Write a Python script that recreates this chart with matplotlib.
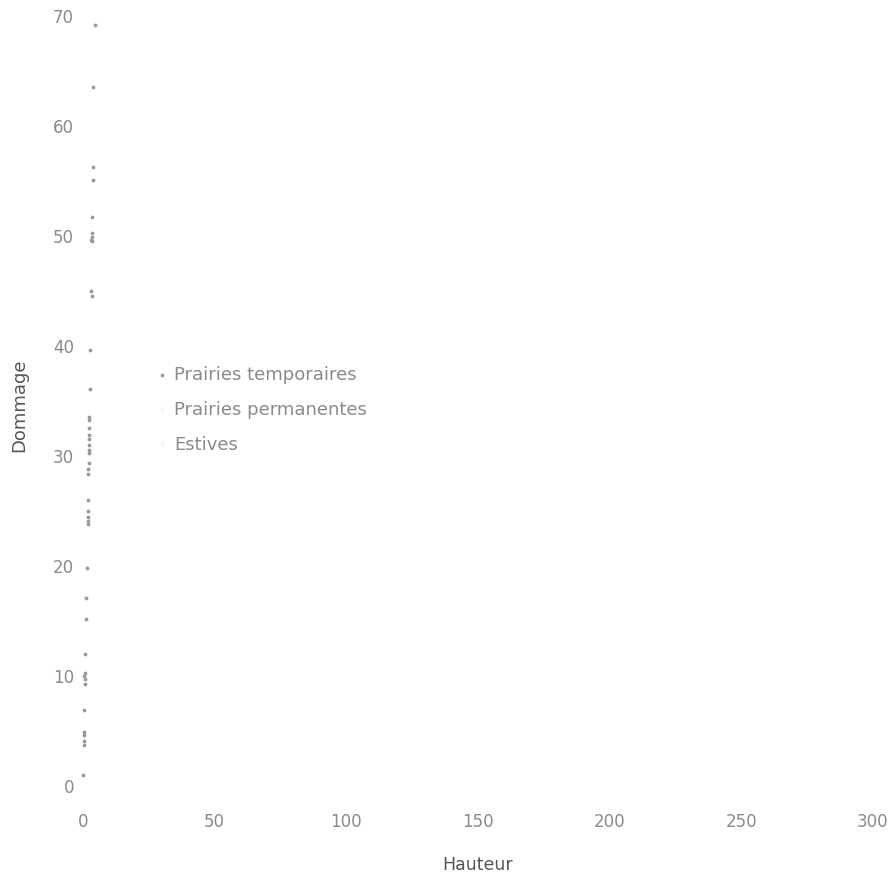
import numpy as np
from matplotlib import pyplot as plt

# series (Hauteur, Dommage)
temp_x = [4.6, 3.8, 3.8, 3.8, 3.4, 3.4, 3.4, 3.0, 3.4, 3.0, 3.4, 2.7, 2.7, 2.3, 2.3,
          2.3, 2.3, 2.3, 2.3, 2.3, 2.3, 2.3, 1.9, 1.9, 1.9, 1.9, 1.9, 1.9, 1.9, 1.5,
          1.1, 1.1, 0.8, 0.8, 0.4, 0.8, 0.8, 0.4, 0.4, 0.4, 0.4, 0.4, 0.0]
temp_y = [69.1, 63.5, 56.2, 55.0, 51.7, 50.2, 49.8, 49.6, 49.5, 44.9, 44.5, 39.6, 36.0, 33.5, 33.2,
          32.5, 31.8, 31.5, 30.9, 30.5, 30.2, 29.3, 28.7, 28.3, 25.9, 24.9, 24.4, 24.0, 23.7, 19.7,
          17.0, 15.1, 11.9, 10.2, 9.9, 9.6, 9.2, 6.8, 4.8, 4.5, 4.0, 3.6, 0.9]
perm_x, perm_y = [], []
estive_x, estive_y = [], []

labels = ['Prairies temporaires', 'Prairies permanentes', 'Estives']
xticks = [0, 50, 100, 150, 200, 250, 300]
yticks = [0, 10, 20, 30, 40, 50, 60, 70]

W, H = 894, 878
fig = plt.figure(figsize=(W/100, H/100), dpi=100)
ax = fig.add_axes([83/W, (H-810)/H, 790/W, 810/H])

txt = '#8a8a8a'
ax.scatter(temp_x, temp_y, s=3, color='#9a9a9a', label=labels[0], clip_on=False)
ax.scatter(perm_x, perm_y, s=3, color='#f4f4f4', label=labels[1], clip_on=False)
ax.scatter(estive_x, estive_y, s=3, color='#f4f4f4', label=labels[2], clip_on=False)

ax.set_xlim(0, 300)
ax.set_ylim(-2.2, 71.5)
ax.set_xticks(xticks)
ax.set_yticks(yticks)
ax.tick_params(length=0, labelsize=12, labelcolor=txt)
ax.tick_params(axis='x', pad=2)
ax.tick_params(axis='y', pad=6.5)
for s in ax.spines.values():
    s.set_visible(False)

ax.set_xlabel('Hauteur', fontsize=12.5, color='#555555', labelpad=18)
ax.set_ylabel('Dommage', fontsize=13, color='#555555', labelpad=18)

leg = ax.legend(loc='upper left', bbox_to_anchor=((140-83)/790, (810-350)/810),
                frameon=False, fontsize=13, handlelength=0.6, handletextpad=0.4,
                labelspacing=0.94, markerscale=1.0)
for t in leg.get_texts():
    t.set_color(txt)

fig.savefig('out.png', dpi=100)
